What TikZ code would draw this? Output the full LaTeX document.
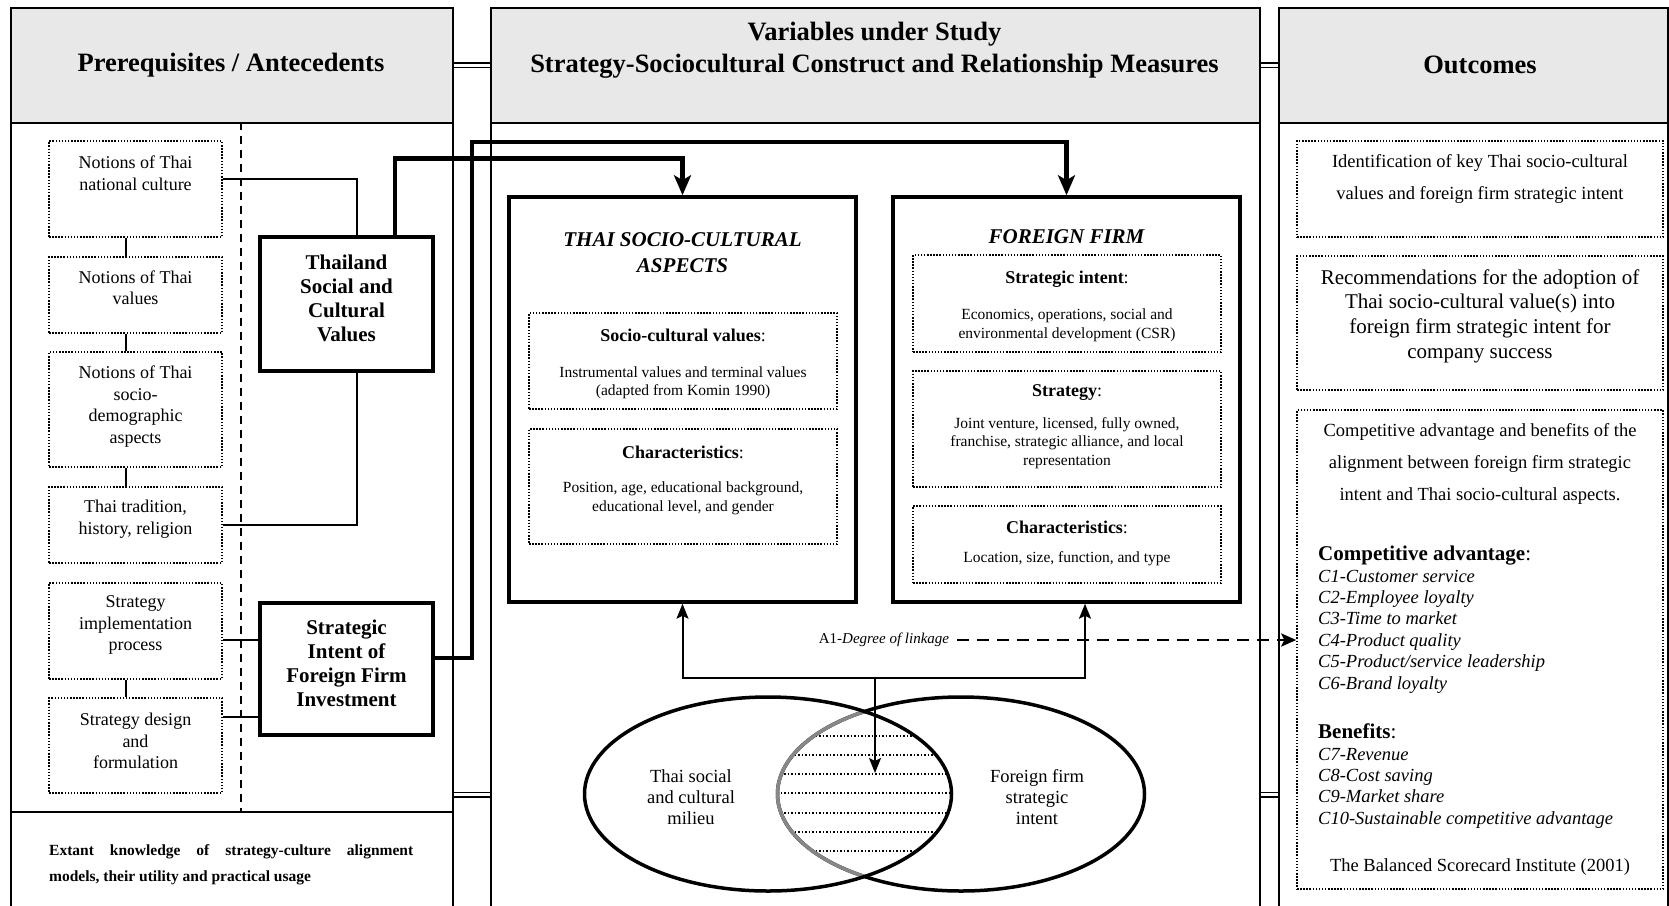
\documentclass[tikz,border=0pt]{standalone}
\usepackage{fontspec}
\setmainfont{Liberation Serif}
\usetikzlibrary{arrows.meta}
\definecolor{headgray}{RGB}{232,232,232}
\definecolor{arcgray}{RGB}{135,135,135}
\tikzset{
  panel/.style={draw, line width=1.6pt, inner sep=0pt},
  headbox/.style={draw, line width=1.6pt, fill=headgray, inner sep=0pt},
  htitle/.style={font=\fontsize{26.5}{31.5}\selectfont\bfseries, align=center, inner sep=0pt},
  dbl/.style={double, double distance=3pt, line width=1.5pt},
  dotbox/.style={draw, line width=1.5pt, dash pattern=on 1.5pt off 1.6pt, inner sep=0pt},
  keybox/.style={draw, line width=4pt, inner sep=0pt},
  framebox/.style={draw, line width=3.5pt, inner sep=0pt},
  ltext/.style={font=\fontsize{18}{21.5}\selectfont, align=center, inner sep=0pt},
  ktext/.style={font=\fontsize{21}{24}\selectfont\bfseries, align=center, inner sep=0pt},
  ftitle/.style={font=\fontsize{21}{26}\selectfont\bfseries\itshape, align=center, inner sep=0pt},
  ititle/.style={font=\fontsize{18}{21}\selectfont, inner sep=0pt},
  itext/.style={font=\fontsize{15.5}{18.5}\selectfont, align=center, inner sep=0pt},
  otext/.style={font=\fontsize{18.5}{32}\selectfont, align=center, inner sep=0pt},
  ltlist/.style={font=\fontsize{18.5}{21.4}\selectfont, align=left, inner sep=0pt, anchor=west},
  link/.style={line width=1.8pt},
  divider/.style={line width=1.5pt, dash pattern=on 8pt off 6pt},
  bigarrow/.style={line width=4.5pt, -{Stealth[length=20pt,width=17pt,inset=5pt]}},
  linkarrows/.style={line width=2pt, {Stealth[length=15pt,width=12pt,inset=3pt]}-{Stealth[length=15pt,width=12pt,inset=3pt]}},
  downarrow/.style={line width=2pt, -{Stealth[length=15pt,width=12pt,inset=3pt]}},
  dasharrow/.style={line width=2.5pt, dash pattern=on 12pt off 8pt, -{Stealth[length=15pt,width=13pt,inset=3pt]}},
  venn/.style={line width=3.5pt},
  hatch/.style={line width=1.5pt, dash pattern=on 1.5pt off 2pt},
}
\begin{document}
\begin{tikzpicture}[x=1pt,y=-1pt]
\useasboundingbox (0,0) rectangle (1669,905);
\clip (0,0) rectangle (1669,905);
\fill[white] (0,0) rectangle (1669,905);

% ---- three column panels ----
\node[panel, minimum width=442pt, minimum height=800pt, anchor=north west] (pL) at (10,122) {};
\node[panel, minimum width=769pt, minimum height=800pt, anchor=north west] (pM) at (490,122) {};
\node[panel, minimum width=389pt, minimum height=800pt, anchor=north west] (pR) at (1278,122) {};

\node[headbox, minimum width=442pt, minimum height=115pt, anchor=north west] (hL) at (10,7) {};
\node[headbox, minimum width=769pt, minimum height=115pt, anchor=north west] (hM) at (490,7) {};
\node[headbox, minimum width=389pt, minimum height=115pt, anchor=north west] (hR) at (1278,7) {};

\node[htitle] (tL) at (231,65) {Prerequisites / Antecedents};
\node[htitle] (tM) at (874.5,50) {Variables under Study\\Strategy-Sociocultural Construct and Relationship Measures};
\node[htitle] (tR) at (1480,65) {Outcomes};

% double links between the panels
\draw[dbl] (hL.east) -- (hM.west);
\draw[dbl] (hM.east) -- (hR.west);
\draw[dbl] (pL.east |- 0,794.5) -- (pM.west |- 0,794.5);
\draw[dbl] (pM.east |- 0,794.5) -- (pR.west |- 0,794.5);

% ---- left column ----
\draw[divider] (241,122) -- (241,812);
\draw[line width=1.6pt] (10,812) -- (452,812);

\node[dotbox, minimum width=173pt, minimum height=96pt] (b1) at (135.5,189) {};
\node[dotbox, minimum width=173pt, minimum height=76pt] (b2) at (135.5,295) {};
\node[dotbox, minimum width=173pt, minimum height=115pt] (b3) at (135.5,409.5) {};
\node[dotbox, minimum width=173pt, minimum height=76pt] (b4) at (135.5,525) {};
\node[dotbox, minimum width=173pt, minimum height=96pt] (b5) at (135.5,631) {};
\node[dotbox, minimum width=173pt, minimum height=95pt] (b6) at (135.5,745.5) {};

\node[ltext] (b1t) at (135.5,173) {Notions of Thai\\national culture};
\node[ltext] (b2t) at (135.5,287.5) {Notions of Thai\\values};
\node[ltext] (b3t) at (135.5,406.5) {Notions of Thai\\socio-\\demographic\\aspects};
\node[ltext] (b4t) at (135.5,519) {Thai tradition,\\history, religion};
\node[ltext] (b5t) at (135.5,625) {Strategy\\implementation\\process};
\node[ltext] (b6t) at (135.5,741) {Strategy design\\and\\formulation};

\draw[link] ([xshift=-9.5pt]b1.south) -- ([xshift=-9.5pt]b2.north);
\draw[link] ([xshift=-9.5pt]b2.south) -- ([xshift=-9.5pt]b3.north);
\draw[link] ([xshift=-9.5pt]b3.south) -- ([xshift=-9.5pt]b4.north);
\draw[link] ([xshift=-9.5pt]b5.south) -- ([xshift=-9.5pt]b6.north);

\node[keybox, minimum width=173pt, minimum height=134pt] (thv) at (346.5,304) {};
\node[ktext] (thvt) at (346.5,298) {Thailand\\Social and\\Cultural\\Values};
\node[keybox, minimum width=173pt, minimum height=132pt] (sit) at (346.5,669) {};
\node[ktext] (sitt) at (346.5,663) {Strategic\\Intent of\\Foreign Firm\\Investment};

\draw[link] ([yshift=10pt]b1.east) -| ([xshift=10.5pt]thv.north);
\draw[link] (b4.east) -| ([xshift=10.5pt]thv.south);
\draw[link] ([yshift=-9pt]b5.east) -- ([yshift=-9pt]b5.east -| sit.west);
\draw[link] ([yshift=28.5pt]b6.east) -- ([yshift=28.5pt]b6.east -| sit.west);

\node[font=\fontsize{15.5}{26}\selectfont\bfseries, align=left, inner sep=0pt, anchor=west] (ext) at (49,865)
  {\makebox[364pt][s]{Extant knowledge of strategy-culture alignment}\\models, their utility and practical usage};

% ---- middle column ----
\node[framebox, minimum width=347pt, minimum height=405pt] (tsc) at (682.5,399.5) {};
\node[framebox, minimum width=347pt, minimum height=405pt] (ff) at (1066.5,399.5) {};
\node[ftitle] (tsct) at (682.5,253) {THAI SOCIO-CULTURAL\\ASPECTS};
\node[ftitle] (fft) at (1066.5,237) {FOREIGN FIRM};

\node[dotbox, minimum width=308pt, minimum height=96pt] (scv) at (683,361) {};
\node[ititle] (scvh) at (683,335) {\textbf{Socio-cultural values}:};
\node[itext] (scvt) at (683,383) {Instrumental values and terminal values\\(adapted from Komin 1990)};

\node[dotbox, minimum width=308pt, minimum height=115pt] (tch) at (683,486.5) {};
\node[ititle] (tchh) at (683,452) {\textbf{Characteristics}:};
\node[itext] (tcht) at (683,498.5) {Position, age, educational background,\\educational level, and gender};

\node[dotbox, minimum width=308pt, minimum height=97pt] (sti) at (1067,303.5) {};
\node[ititle] (stih) at (1067,279) {\textbf{Strategic intent}:};
\node[itext] (stit) at (1067,325.5) {Economics, operations, social and\\environmental development (CSR)};

\node[dotbox, minimum width=308pt, minimum height=116pt] (sty) at (1067,429) {};
\node[ititle] (styh) at (1067,393) {\textbf{Strategy}:};
\node[itext] (styt) at (1067,443) {Joint venture, licensed, fully owned,\\franchise, strategic alliance, and local\\representation};

\node[dotbox, minimum width=308pt, minimum height=77pt] (fch) at (1067,544.5) {};
\node[ititle] (fchh) at (1067,527) {\textbf{Characteristics}:};
\node[itext] (fcht) at (1067,559) {Location, size, function, and type};

% thick feeds from the antecedents
\draw[bigarrow] ([xshift=48.5pt]thv.north) |- ([yshift=37pt]tsc.north) -- (tsc.north);
\coordinate (bend) at (472,142);
\draw[bigarrow] ([yshift=11pt]sit.east) -| (bend) -| (ff.north);

% overlap of the two domains
\begin{scope}
  \clip (768,794) ellipse [x radius=183.5pt, y radius=97pt];
  \clip (961,794) ellipse [x radius=183.5pt, y radius=97pt];
  \foreach \yy in {736,755,774,793,813,832,851}
    \draw[hatch] (770,\yy) -- (960,\yy);
\end{scope}
\draw[venn] (961,794) ellipse [x radius=183.5pt, y radius=97pt];
\begin{scope}
  \clip (768,794) ellipse [x radius=183.5pt, y radius=97pt];
  \draw[venn, draw=arcgray] (961,794) ellipse [x radius=183.5pt, y radius=97pt];
\end{scope}
\draw[venn] (768,794) ellipse [x radius=183.5pt, y radius=97pt];

\node[ltext, font=\fontsize{18.5}{21}\selectfont] (vLt) at (691,797.5) {Thai social\\and cultural\\milieu};
\node[ltext, font=\fontsize{18.5}{21}\selectfont] (vRt) at (1037,797.5) {Foreign firm\\strategic\\intent};

% degree of linkage
\coordinate (hub) at (875,678);
\coordinate (ov) at (875,773);
\draw[linkarrows] (tsc.south) -- (tsc.south |- hub) -- ([xshift=18.5pt]ff.south |- hub) -- ([xshift=18.5pt]ff.south);
\draw[downarrow] (hub) -- (ov);
\node[font=\fontsize{15}{18}\selectfont, inner xsep=8pt, inner ysep=0pt] (a1) at (884,640) {A1-\textit{Degree of linkage}};

% ---- right column ----
\node[dotbox, minimum width=366pt, minimum height=96pt] (oA) at (1480,189) {};
\node[otext] (oAt) at (1480,179) {Identification of key Thai socio-cultural\\values and foreign firm strategic intent};

\node[dotbox, minimum width=366pt, minimum height=134pt] (oB) at (1480,323) {};
\node[otext, font=\fontsize{21}{24.7}\selectfont] (oBt) at (1480,316) {Recommendations for the adoption of\\Thai socio-cultural value(s) into\\foreign firm strategic intent for\\company success};

\node[dotbox, minimum width=366pt, minimum height=479pt] (oC) at (1480,649.5) {};
\node[otext] (oCt) at (1480,464) {Competitive advantage and benefits of the\\alignment between foreign firm strategic\\intent and Thai socio-cultural aspects.};
\node[ltlist] (oCa) at (1318,619.5) {{\fontsize{21}{21.4}\selectfont\textbf{Competitive advantage}:}\\
  \textit{C1-Customer service}\\ \textit{C2-Employee loyalty}\\ \textit{C3-Time to market}\\
  \textit{C4-Product quality}\\ \textit{C5-Product/service leadership}\\ \textit{C6-Brand loyalty}};
\node[ltlist] (oCb) at (1318,776) {{\fontsize{21}{21.4}\selectfont\textbf{Benefits}:}\\
  \textit{C7-Revenue}\\ \textit{C8-Cost saving}\\ \textit{C9-Market share}\\
  \textit{C10-Sustainable competitive advantage}};
\node[otext] (oCs) at (1480,867) {The Balanced Scorecard Institute (2001)};

\draw[dasharrow] (a1.east) -- (a1.east -| oC.west);
\end{tikzpicture}
\end{document}
